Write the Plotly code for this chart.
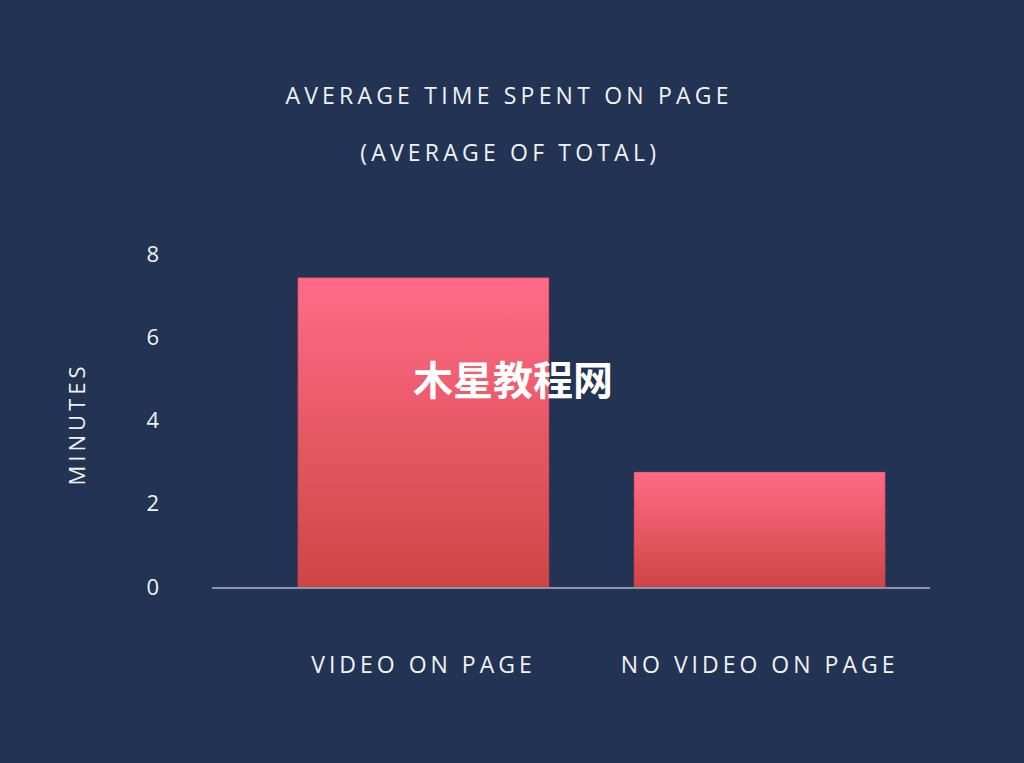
import plotly.graph_objects as go

categories = ["VIDEO ON PAGE", "NO VIDEO ON PAGE"]
values = [7.43, 2.76]
y_ticks = [0, 2, 4, 6, 8]
title_line1 = "AVERAGE TIME SPENT ON PAGE"
title_line2 = "(AVERAGE OF TOTAL)"
y_title = "MINUTES"
watermark = "木星教程网"

BG = "#233354"
TEXT = "#F0F2F5"
FONT = "Open Sans"
BAR_W = 0.747

fig = go.Figure()
for i, (cat, v) in enumerate(zip(categories, values)):
    x0, x1 = i - BAR_W / 2, i + BAR_W / 2
    fig.add_trace(go.Scatter(
        x=[x0, x1, x1, x0, x0],
        y=[0, 0, v, v, 0],
        mode="lines",
        line=dict(width=0.8, color="rgba(200,60,80,0.6)"),
        fill="toself",
        fillgradient=dict(type="vertical",
                          colorscale=[[0, "#CF4545"], [1, "#FF6B86"]]),
        name=cat,
        hoverinfo="skip",
        showlegend=False,
    ))

fig.update_layout(
    width=1024, height=763,
    paper_bgcolor=BG, plot_bgcolor=BG,
    margin=dict(l=212, r=94, t=254, b=176),
    font=dict(family=FONT, color=TEXT, size=24),
    xaxis=dict(range=[-0.629, 1.507], tickmode="array",
               tickvals=list(range(len(categories))), ticktext=categories,
               showgrid=False, zeroline=False, showline=True,
               linecolor="#8A93A8", linewidth=1.5, ticks="",
               ticklabelstandoff=57,
               tickfont=dict(family=FONT, size=23, color=TEXT),
               fixedrange=True),
    yaxis=dict(range=[0, 8], tickmode="array", tickvals=y_ticks,
               showgrid=False, zeroline=False, showline=False, ticks="",
               ticklabelstandoff=52,
               tickfont=dict(family=FONT, size=22, color=TEXT),
               fixedrange=True),
    annotations=[
        dict(text=title_line1, xref="paper", yref="paper",
             x=0.413, y=(587 - 95) / 333, xanchor="center", yanchor="middle",
             showarrow=False, font=dict(family=FONT, size=23, color=TEXT)),
        dict(text=title_line2, xref="paper", yref="paper",
             x=0.415, y=(587 - 152) / 333, xanchor="center", yanchor="middle",
             showarrow=False, font=dict(family=FONT, size=23, color=TEXT)),
        dict(text=y_title, textangle=-90, xref="paper", yref="paper",
             x=-0.189, y=0.489, xanchor="center", yanchor="middle",
             showarrow=False, font=dict(family=FONT, size=22, color=TEXT)),
        dict(text="<b>" + watermark + "</b>", xref="paper", yref="paper",
             x=(513 - 212) / 718, y=(587 - 378) / 333,
             xanchor="center", yanchor="middle", showarrow=False,
             font=dict(family="Noto Sans CJK SC", size=40, color="white")),
    ],
)

post = """
document.body.style.margin = '0';
var gd = document.getElementById('{plot_id}');
gd.querySelectorAll('.xtick text').forEach(function(t){ t.style.letterSpacing = '4px'; });
gd.querySelectorAll('.annotation-text').forEach(function(t){
  var s = t.textContent;
  if (s.indexOf('MINUTES') >= 0) { t.style.letterSpacing = '4px'; }
  else if (s.indexOf('AVERAGE') >= 0) { t.style.letterSpacing = '4.2px'; }
});
"""

fig.write_html("out.html", post_script=post, config={"displayModeBar": False})
